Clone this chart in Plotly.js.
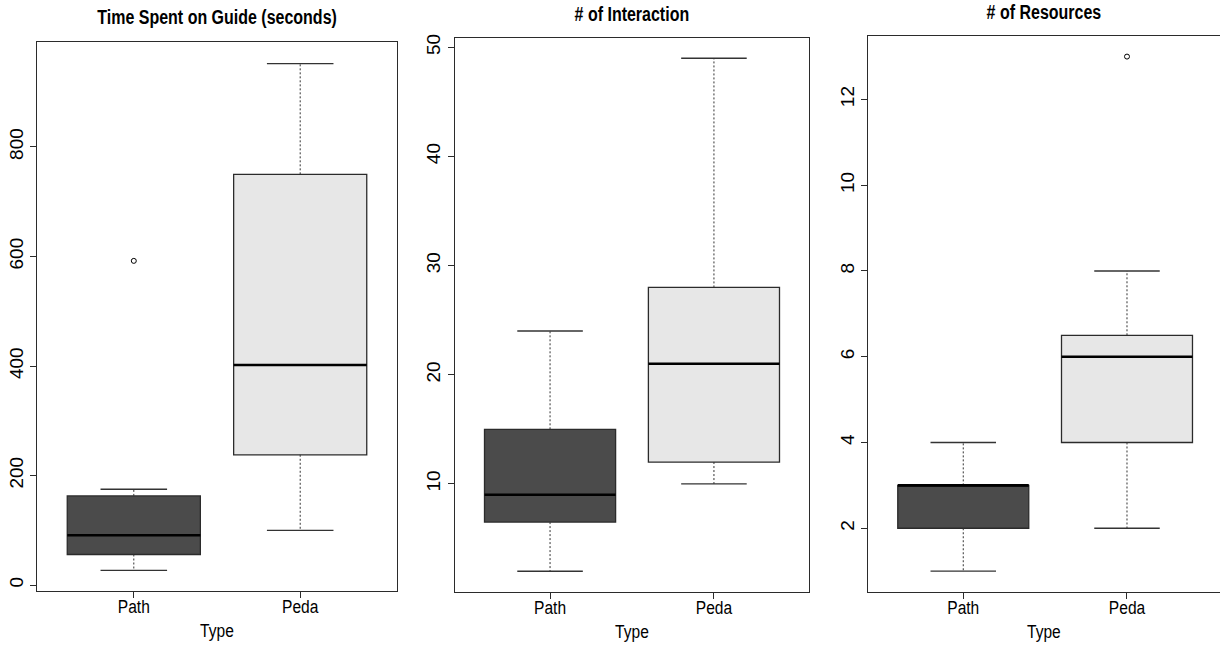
<!DOCTYPE html>
<html>
<head>
<meta charset="utf-8">
<script src="https://cdn.plot.ly/plotly-3.0.1.min.js"></script>
<style>
  html, body { margin: 0; padding: 0; background: #ffffff; }
  #chart { width: 1220px; height: 649px; }
</style>
</head>
<body>
<div id="chart"></div>
<script>
// ---------- data ----------
const categories = ['Path', 'Peda'];
const categoryPos = [1, 2];

const panelTitles = ['Time Spent on Guide (seconds)', '# of Interaction', '# of Resources'];
const xAxisLabel = 'Type';

// Time spent on guide (seconds)
const timeLower  = [27, 100];
const timeQ1     = [56, 238];
const timeMedian = [91, 402];
const timeQ3     = [163, 750];
const timeUpper  = [175, 952];
const timeOutlierCat = ['Path'];
const timeOutlierVal = [592];
const timeTicks = [0, 200, 400, 600, 800];

// # of interaction
const interLower  = [2, 10];
const interQ1     = [6.5, 12];
const interMedian = [9, 21];
const interQ3     = [15, 28];
const interUpper  = [24, 49];
const interOutlierCat = [];
const interOutlierVal = [];
const interTicks = [10, 20, 30, 40, 50];

// # of resources
const resLower  = [1, 2];
const resQ1     = [2, 4];
const resMedian = [3, 6];
const resQ3     = [3, 6.5];
const resUpper  = [4, 8];
const resOutlierCat = ['Peda'];
const resOutlierVal = [13];
const resTicks = [2, 4, 6, 8, 10, 12];

// ---------- styling ----------
const fillColors = ['#4b4b4b', '#e7e7e7'];
const edge = '#2b2b2b';
const BOX_HALF = 0.4;
const STAPLE_HALF = 0.2;
const NARROW = '"Liberation Sans Narrow", "Arial Narrow", "Liberation Sans", Arial, sans-serif';
const REGULAR = '"Liberation Sans", Arial, sans-serif';
const CONDENSE = 0.82;

function panelTraces(idx, lower, q1, med, q3, upper, outCat, outVal) {
  const xa = idx === 1 ? 'x' : 'x' + idx;
  const ya = idx === 1 ? 'y' : 'y' + idx;
  const traces = [];
  categories.forEach((c, i) => {
    const p = categoryPos[i];
    traces.push({
      type: 'box', xaxis: xa, yaxis: ya, name: c,
      x: [p], q1: [q1[i]], median: [med[i]], q3: [q3[i]],
      lowerfence: [q1[i]], upperfence: [q3[i]],
      width: BOX_HALF * 2, whiskerwidth: 0,
      fillcolor: fillColors[i],
      line: { color: edge, width: 1.3 },
      boxpoints: false, hoverinfo: 'skip', showlegend: false
    });
    traces.push({
      type: 'scatter', mode: 'lines', xaxis: xa, yaxis: ya,
      x: [p, p, null, p, p],
      y: [q3[i], upper[i], null, q1[i], lower[i]],
      line: { color: '#333333', width: 1, dash: '2px,2px' },
      hoverinfo: 'skip', showlegend: false
    });
    traces.push({
      type: 'scatter', mode: 'lines', xaxis: xa, yaxis: ya,
      x: [p - STAPLE_HALF, p + STAPLE_HALF, null, p - STAPLE_HALF, p + STAPLE_HALF],
      y: [upper[i], upper[i], null, lower[i], lower[i]],
      line: { color: '#333333', width: 1.4 },
      hoverinfo: 'skip', showlegend: false
    });
    traces.push({
      type: 'scatter', mode: 'lines', xaxis: xa, yaxis: ya,
      x: [p - BOX_HALF, p + BOX_HALF],
      y: [med[i], med[i]],
      line: { color: '#000000', width: 2.6 },
      hoverinfo: 'skip', showlegend: false
    });
  });
  traces.push({
    type: 'scatter', mode: 'markers', xaxis: xa, yaxis: ya,
    x: outCat.map(c => categoryPos[categories.indexOf(c)]),
    y: outVal,
    marker: { symbol: 'circle-open', size: 5, color: '#000000', line: { width: 1, color: '#000000' } },
    hoverinfo: 'skip', showlegend: false
  });
  return traces;
}

const data = [].concat(
  panelTraces(1, timeLower, timeQ1, timeMedian, timeQ3, timeUpper, timeOutlierCat, timeOutlierVal),
  panelTraces(2, interLower, interQ1, interMedian, interQ3, interUpper, interOutlierCat, interOutlierVal),
  panelTraces(3, resLower, resQ1, resMedian, resQ3, resUpper, resOutlierCat, resOutlierVal)
);

// ---------- layout ----------
const W = 1220, H = 649;
const frames = [
  { l: 37.3, r: 396.7, t: 41.7, b: 590.7, xr: [0.42, 2.58], yr: [-10.1, 992.1], ticks: timeTicks },
  { l: 455.0, r: 809.0, t: 37.7, b: 591.7, xr: [0.42, 2.58], yr: [0.12, 50.88], ticks: interTicks },
  { l: 868.3, r: 1219.5, t: 36.0, b: 591.7, xr: [0.42, 2.565], yr: [0.52, 13.48], ticks: resTicks }
];
const titleCapMid = [17.5, 13.8, 11.7];

const layout = {
  width: W, height: H,
  margin: { l: 0, r: 0, t: 0, b: 0 },
  paper_bgcolor: '#ffffff', plot_bgcolor: '#ffffff',
  showlegend: false,
  annotations: []
};

frames.forEach((f, k) => {
  const sx = k === 0 ? '' : String(k + 1);
  const commonAxis = {
    showline: true, mirror: true, linecolor: edge, linewidth: 1.2,
    ticks: 'outside', ticklen: 6, tickwidth: 1, tickcolor: edge,
    showgrid: false, zeroline: false, fixedrange: true
  };
  layout['xaxis' + sx] = Object.assign({}, commonAxis, {
    domain: [f.l / W, f.r / W], anchor: 'y' + sx,
    range: f.xr, tickmode: 'array', tickvals: categoryPos, ticktext: categories,
    tickfont: { family: NARROW, size: 19, color: '#000000' },
    ticklabelstandoff: -8,
    title: { text: xAxisLabel, font: { family: NARROW, size: 19, color: '#000000' }, standoff: 8 }
  });
  layout['yaxis' + sx] = Object.assign({}, commonAxis, {
    domain: [1 - f.b / H, 1 - f.t / H], anchor: 'x' + sx,
    range: f.yr, tickmode: 'array', tickvals: f.ticks, ticktext: f.ticks.map(String),
    tickangle: -90,
    tickfont: { family: REGULAR, size: 19, color: '#000000' }
  });
  layout.annotations.push({
    xref: 'paper', yref: 'paper',
    x: ((f.l + f.r) / 2) / W, y: 1 - titleCapMid[k] / H,
    xanchor: 'center', yanchor: 'middle',
    text: '<b>' + panelTitles[k] + '</b>', showarrow: false,
    font: { family: NARROW, size: 19.5, color: '#000000' }
  });
});

// horizontally condense the horizontal texts (reference was rendered with a narrow face)
function condense(selector, factor) {
  document.querySelectorAll(selector).forEach(t => {
    const b = t.getBBox();
    const cx = b.x + b.width / 2;
    const cur = t.getAttribute('transform') || '';
    t.setAttribute('transform', cur + ' translate(' + cx + ',0) scale(' + factor + ',1) translate(' + (-cx) + ',0)');
  });
}

Plotly.newPlot('chart', data, layout, { displayModeBar: false, staticPlot: true }).then(() => {
  condense('#chart .xtick text, #chart .x2tick text, #chart .x3tick text', CONDENSE);
  condense('#chart .xtitle, #chart .x2title, #chart .x3title', CONDENSE);
  condense('#chart .annotation-text', CONDENSE);
});
</script>
</body>
</html>
